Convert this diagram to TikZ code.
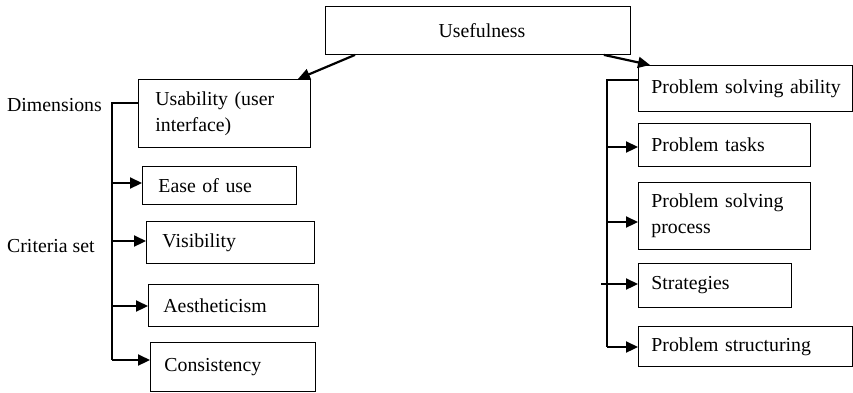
\documentclass[tikz,border=0pt]{standalone}
\usepackage{fontspec}
\setmainfont{Liberation Serif}
\usetikzlibrary{arrows.meta,calc}
\newcommand\myfs{\fontsize{19.8}{26}\selectfont}
\begin{document}
\begin{tikzpicture}[x=1pt,y=-1pt,
  box/.style={draw, line width=0.9pt, rectangle, anchor=north west, inner xsep=0pt, inner ysep=0pt, align=left, font=\myfs},
  lbl/.style={anchor=west, inner sep=0pt, font=\myfs},
  link/.style={line width=1.3pt},
  arr/.style={line width=2.2pt, -{Triangle[length=12pt,width=11pt]}},
]
\useasboundingbox (0,0) rectangle (853,392);
% top
\node[box, minimum width=305pt, minimum height=48pt, text width=280pt, align=center] (use) at (325,6) {\hspace*{8pt}Usefulness};
% left column
\node[box, minimum width=172pt, minimum height=68pt, text width=138pt] (usab) at (138,79) {Usability (user\\interface)};
\node[box, minimum width=154pt, minimum height=38pt, text width=122pt] (ease) at (142,166) {Ease of use};
\node[box, minimum width=168pt, minimum height=42pt, text width=136pt] (vis) at (146,221) {Visibility};
\node[box, minimum width=170pt, minimum height=42pt, text width=140pt] (aes) at (148,284) {Aestheticism};
\node[box, minimum width=165pt, minimum height=49pt, text width=137pt] (cons) at (150,342) {Consistency};
% right column
\node[box, minimum width=214pt, minimum height=46pt, text width=188pt] (psa) at (638,65) {\mbox{Problem solving ability}};
\node[box, minimum width=172pt, minimum height=43pt, text width=146pt] (task) at (638,123) {Problem tasks};
\node[box, minimum width=172pt, minimum height=67pt, text width=146pt] (proc) at (638,182) {Problem solving\\process};
\node[box, minimum width=153pt, minimum height=44pt, text width=127pt] (strat) at (638,263) {Strategies};
\node[box, minimum width=214pt, minimum height=40pt, text width=188pt] (struct) at (638,326) {\mbox{Problem structuring}};
% labels
\node[lbl] (dim) at (7,105) {Dimensions};
\node[lbl] (crit) at (7,246) {Criteria set};
% top arrows
\draw[arr] ($(use.south west)+(30,0)$) -- ($(usab.north east)+(-13,0)$);
\draw[arr] ($(use.south east)+(-27,0)$) -- ($(psa.north west)+(12,0)$);
% left tree
\coordinate (lt) at (112,103);
\coordinate (lb) at (112,360);
\coordinate (l1) at (112,183);
\coordinate (l2) at (112,241);
\coordinate (l3) at (112,306);
\draw[link] (usab.west |- lt) -- (lt) -- (lb);
\draw[arr] (lb) -- (cons.west |- lb);
\draw[arr] (l1) -- (ease.west |- l1);
\draw[arr] (l2) -- (vis.west |- l2);
\draw[arr] (l3) -- (aes.west |- l3);
% right tree
\coordinate (rt) at (607,80);
\coordinate (rb) at (607,347);
\coordinate (r1) at (607,147);
\coordinate (r2) at (607,222);
\coordinate (r3) at (601,284);
\draw[link] (psa.west |- rt) -- (rt) -- (rb);
\draw[arr] (rb) -- (struct.west |- rb);
\draw[arr] (r1) -- (task.west |- r1);
\draw[arr] (r2) -- (proc.west |- r2);
\draw[arr] (r3) -- (strat.west |- r3);
\end{tikzpicture}
\end{document}
